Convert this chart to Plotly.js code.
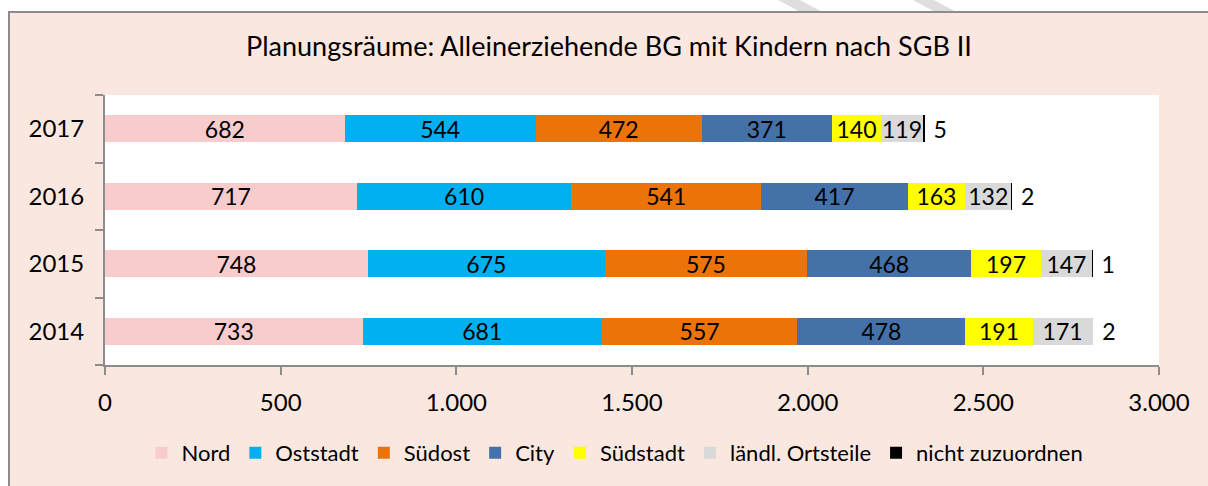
<!DOCTYPE html>
<html>
<head>
<meta charset="utf-8">
<script src="https://cdn.plot.ly/plotly-3.0.1.min.js"></script>
<style>
  html, body { margin: 0; padding: 0; background: #ffffff; }
  #wrap { position: relative; width: 1208px; height: 486px; overflow: hidden; background: #ffffff; }
  #wm { position: absolute; left: 0; top: 0; }
  #chart { position: absolute; left: 8px; top: 11px; width: 1198px; height: 473px;
           border-left: 2px solid #8c8c8c; border-top: 2px solid #8c8c8c; }
</style>
</head>
<body>
<div id="wrap">
  <svg id="wm" width="1208" height="20">
    <polygon points="778,0 800,0 826,14 804,14" fill="#dedede"/>
    <polygon points="913,0 934,0 960,14 939,14" fill="#dedede"/>
  </svg>
  <div id="chart"></div>
</div>
<script>
const years = ['2014', '2015', '2016', '2017'];
const seriesNames = ['Nord', 'Oststadt', 'Südost', 'City', 'Südstadt', 'ländl. Ortsteile', 'nicht zuzuordnen'];
const nord = [733, 748, 717, 682];
const oststadt = [681, 675, 610, 544];
const suedost = [557, 575, 541, 472];
const city = [478, 468, 417, 371];
const suedstadt = [191, 197, 163, 140];
const laendl = [171, 147, 132, 119];
const nichtZuzuordnen = [2, 1, 2, 5];
const xTickVals = [0, 500, 1000, 1500, 2000, 2500, 3000];

const seriesValues = [nord, oststadt, suedost, city, suedstadt, laendl, nichtZuzuordnen];
const colors = ['#F8CBCD', '#00B0F0', '#EC7308', '#4472A8', '#FFFF00', '#D9D9D9', '#000000'];
const FONT = 'Lato, "Open Sans", sans-serif';

const traces = seriesNames.map((name, i) => {
  const last = i === seriesNames.length - 1;
  return {
    type: 'bar',
    orientation: 'h',
    name: name,
    y: years,
    x: seriesValues[i],
    marker: { color: colors[i], line: { width: 0 } },
    text: seriesValues[i].map(v => last ? '\u00a0' + v : String(v)),
    textposition: last ? 'outside' : 'inside',
    insidetextanchor: 'middle',
    constraintext: 'none',
    cliponaxis: false,
    textfont: { family: FONT, size: 23, color: '#000000' },
    insidetextfont: { family: FONT, size: 23, color: '#000000' },
    outsidetextfont: { family: FONT, size: 23, color: '#000000' },
    hoverinfo: 'name+x'
  };
});

const layout = {
  width: 1198,
  height: 473,
  paper_bgcolor: '#FAE8E0',
  plot_bgcolor: '#FFFFFF',
  separators: ',.',
  barmode: 'stack',
  bargap: 0.6,
  margin: { l: 95, r: 49, t: 82, b: 121, pad: 0 },
  font: { family: FONT, size: 23, color: '#000000' },
  title: {
    text: 'Planungsräume: Alleinerziehende BG mit Kindern nach SGB II',
    font: { family: FONT, size: 27, color: '#000000' },
    x: 0.5, xanchor: 'center',
    y: 1 - 34 / 473, yanchor: 'middle', yref: 'container'
  },
  xaxis: {
    range: [0, 3000],
    tickvals: xTickVals,
    tickformat: ',d',
    showgrid: false,
    zeroline: false,
    showline: true,
    linecolor: '#8c8c8c',
    linewidth: 2,
    ticks: 'outside',
    ticklen: 8,
    tickwidth: 2,
    tickcolor: '#8c8c8c',
    ticklabelstandoff: 7,
    tickfont: { family: FONT, size: 24, color: '#000000' },
    fixedrange: true
  },
  yaxis: {
    type: 'category',
    categoryorder: 'array',
    categoryarray: years,
    showgrid: false,
    zeroline: false,
    showline: true,
    linecolor: '#8c8c8c',
    linewidth: 2,
    ticks: 'outside',
    tickson: 'boundaries',
    ticklen: 8,
    tickwidth: 2,
    tickcolor: '#8c8c8c',
    ticklabelstandoff: 14,
    tickfont: { family: FONT, size: 24, color: '#000000' },
    fixedrange: true
  },
  showlegend: true,
  legend: {
    orientation: 'h',
    x: 0.505, xanchor: 'center', xref: 'container',
    y: 1 - 440 / 473, yanchor: 'middle', yref: 'container',
    font: { family: FONT, size: 22, color: '#000000' },
    bgcolor: 'rgba(0,0,0,0)',
    traceorder: 'normal'
  }
};

Plotly.newPlot('chart', traces, layout, { displayModeBar: false, staticPlot: true });
</script>
</body>
</html>
